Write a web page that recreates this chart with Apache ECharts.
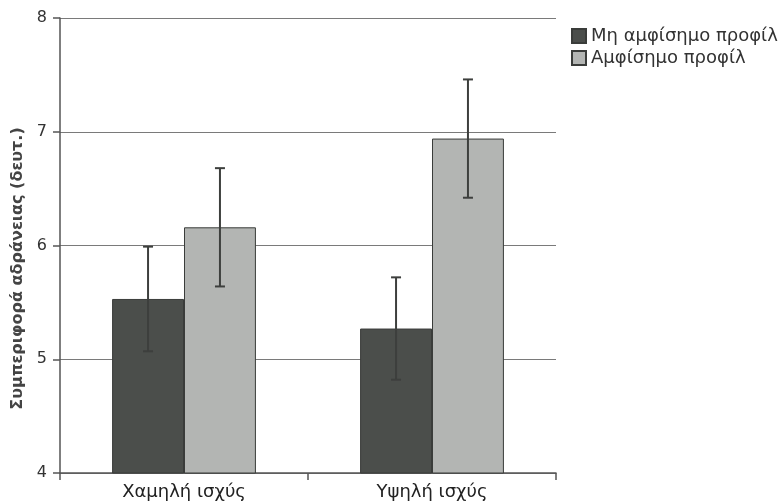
<!DOCTYPE html>
<html>
<head>
<meta charset="utf-8">
<script src="https://cdn.jsdelivr.net/npm/echarts@6/dist/echarts.min.js"></script>
<style>
  html, body { margin: 0; padding: 0; background: #fff; }
  #chart { width: 782px; height: 503px; }
</style>
</head>
<body>
<div id="chart"></div>
<script>
// Categories and series
const categories = ['Χαμηλή ισχύς', 'Υψηλή ισχύς'];
const seriesNames = ['Μη αμφίσημο προφίλ', 'Αμφίσημο προφίλ'];
const unambiguous = [5.53, 5.27];
const ambiguous = [6.16, 6.94];
// Half-width of the error bars
const unambiguousErr = [0.46, 0.45];
const ambiguousErr = [0.52, 0.52];
const yTicks = [4, 5, 6, 7, 8];

const FONT = '"DejaVu Sans", "Noto Sans", sans-serif';
const DARK = '#4b4e4b';
const LIGHT = '#b3b5b3';
const CAT_GAP = 0.42;

const chart = echarts.init(document.getElementById('chart'));

// Error bars drawn as vertical whiskers with caps, shifted onto each bar
function errorSeries(name, values, errs, side) {
  return {
    type: 'custom',
    name: name + ' err',
    z: 10,
    data: values.map((v, i) => [i, v - errs[i], v + errs[i]]),
    renderItem: function (params, api) {
      const band = api.size([1, 0])[0];
      const barW = band * (1 - CAT_GAP) / 2;
      const lo = api.coord([api.value(0), api.value(1)]);
      const hi = api.coord([api.value(0), api.value(2)]);
      const x = lo[0] + side * barW / 2;
      const cap = 5;
      const style = { stroke: '#3d3f3d', lineWidth: 2 };
      return {
        type: 'group',
        children: [
          { type: 'line', shape: { x1: x, y1: lo[1], x2: x, y2: hi[1] }, style: style },
          { type: 'line', shape: { x1: x - cap, y1: hi[1], x2: x + cap, y2: hi[1] }, style: style },
          { type: 'line', shape: { x1: x - cap, y1: lo[1], x2: x + cap, y2: lo[1] }, style: style }
        ]
      };
    }
  };
}

chart.setOption({
  animation: false,
  backgroundColor: '#ffffff',
  grid: { left: 60, top: 18, right: 226, bottom: 30, outerBoundsMode: 'none', containLabel: false },
  legend: {
    orient: 'vertical',
    left: 566,
    top: 22,
    itemWidth: 14,
    itemHeight: 14,
    itemGap: 4,
    icon: 'rect',
    data: seriesNames,
    textStyle: { fontFamily: FONT, fontSize: 18, color: '#333' }
  },
  xAxis: {
    type: 'category',
    data: categories,
    axisLine: { lineStyle: { color: '#555', width: 1.5 } },
    axisTick: { show: true, length: 7, lineStyle: { color: '#555', width: 1.5 } },
    axisLabel: { fontFamily: FONT, fontSize: 18, color: '#222', margin: 10 }
  },
  yAxis: {
    type: 'value',
    min: yTicks[0],
    max: yTicks[yTicks.length - 1],
    interval: 1,
    name: 'Συμπεριφορά αδράνειας (δευτ.)',
    nameLocation: 'middle',
    nameGap: 34,
    nameTextStyle: { fontFamily: FONT, fontSize: 16, fontWeight: 'bold', color: '#444', padding: [0, 46, 0, 0] },
    axisLine: { show: true, lineStyle: { color: '#555', width: 1.5 } },
    axisTick: { show: true, length: 7, lineStyle: { color: '#555', width: 1.5 } },
    axisLabel: { fontFamily: FONT, fontSize: 16, color: '#333', margin: 13 },
    splitLine: { show: true, lineStyle: { color: '#7a7a7a', width: 1.2 } }
  },
  series: [
    {
      type: 'bar',
      name: seriesNames[0],
      data: unambiguous,
      barGap: '0%',
      barCategoryGap: (CAT_GAP * 100) + '%',
      itemStyle: { color: DARK, borderColor: '#3a3c3a', borderWidth: 1 }
    },
    {
      type: 'bar',
      name: seriesNames[1],
      data: ambiguous,
      barGap: '0%',
      barCategoryGap: (CAT_GAP * 100) + '%',
      itemStyle: { color: LIGHT, borderColor: '#3a3c3a', borderWidth: 1 }
    },
    errorSeries(seriesNames[0], unambiguous, unambiguousErr, -1),
    errorSeries(seriesNames[1], ambiguous, ambiguousErr, 1)
  ]
});
</script>
</body>
</html>
